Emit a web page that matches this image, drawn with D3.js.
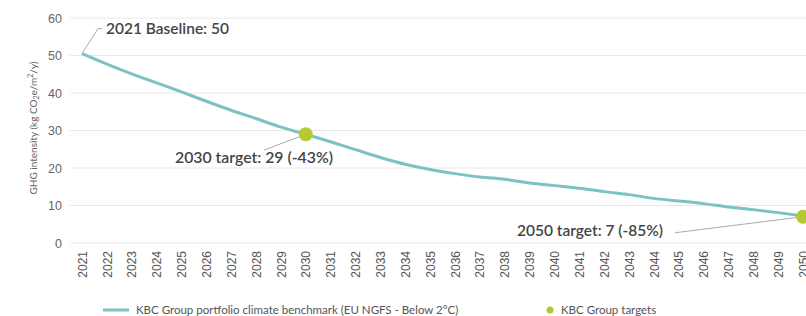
<!DOCTYPE html>
<html>
<head>
<meta charset="utf-8">
<script src="https://cdn.jsdelivr.net/npm/d3@7"></script>
<style>
  body { margin: 0; background: #fff; }
  svg { display: block; font-family: Lato, "Open Sans", sans-serif; }
</style>
</head>
<body>
<div id="chart"></div>
<script>
// Benchmark pathway
const years = d3.range(2021, 2051);
const benchmark = [50.5, 47.7, 45.1, 42.7, 40.3, 37.8, 35.4, 33.2, 30.9, 29.0,
  27.0, 24.9, 22.8, 21.0, 19.6, 18.5, 17.6, 17.0, 16.0, 15.3,
  14.6, 13.7, 12.9, 11.9, 11.2, 10.5, 9.6, 8.9, 8.1, 7.2];
const targetYears = [2030, 2050];
const targetValues = [29, 7];
const yTicks = [0, 10, 20, 30, 40, 50, 60];

const width = 806, height = 316;
const svg = d3.select('#chart').append('svg')
  .attr('width', width).attr('height', height);

const x = d3.scaleLinear().domain([2021, 2050]).range([82, 803]);
const y = d3.scaleLinear().domain([0, 60]).range([243, 18]);

// gridlines
svg.append('g').selectAll('line')
  .data(yTicks)
  .join('line')
  .attr('x1', 70).attr('x2', width)
  .attr('y1', d => y(d)).attr('y2', d => y(d))
  .attr('stroke', '#e8e8e8').attr('stroke-width', 1);

// y axis labels
const yAxis = svg.append('g')
  .attr('transform', 'translate(62,0)')
  .call(d3.axisLeft(y).tickValues(yTicks).tickSize(0).tickPadding(0));
yAxis.select('.domain').remove();
yAxis.selectAll('text').attr('fill', '#666').attr('font-size', 12.5);

svg.append('text')
  .attr('transform', 'translate(37,128) rotate(-90)')
  .attr('text-anchor', 'middle')
  .attr('font-size', 10)
  .attr('fill', '#666')
  .html('GHG intensity (kg CO<tspan font-size="7" dy="2">2</tspan><tspan dy="-2">e/m</tspan><tspan font-size="7" dy="-4">2</tspan><tspan dy="4">/y)</tspan>');

// x axis labels, rotated
const xAxis = svg.append('g')
  .attr('transform', 'translate(0,251)')
  .call(d3.axisBottom(x).tickValues(years).tickFormat(d3.format('d')).tickSize(0).tickPadding(0));
xAxis.select('.domain').remove();
xAxis.selectAll('text')
  .attr('fill', '#555').attr('font-size', 12)
  .attr('transform', 'rotate(-90)')
  .attr('text-anchor', 'end')
  .attr('dy', '0.35em').attr('x', 0).attr('y', 0);

// benchmark line
const line = d3.line().x((d, i) => x(years[i])).y(d => y(d)).curve(d3.curveMonotoneX);
svg.append('path')
  .datum(benchmark)
  .attr('d', line)
  .attr('fill', 'none')
  .attr('stroke', '#7cc2c4')
  .attr('stroke-width', 3);

// annotation leaders
const leader = svg.append('g').attr('stroke', '#aaa').attr('stroke-width', 1).attr('fill', 'none');
leader.append('path').attr('d', `M${x(2021)},${y(benchmark[0])}L${x(2021) + 16},${y(benchmark[0]) - 25}h4`);
leader.append('path').attr('d', `M${x(2030)},${y(29)}L${x(2030) - 42},${y(29) + 16}`);
leader.append('path').attr('d', `M${x(2050)},${y(7)}L${x(2050) - 128},${y(7) + 16}`);

// target markers
svg.append('g').selectAll('circle')
  .data(targetValues)
  .join('circle')
  .attr('cx', (d, i) => x(targetYears[i]))
  .attr('cy', d => y(d))
  .attr('r', 7)
  .attr('fill', '#b6c935');

const ann = svg.append('g').attr('font-size', 15.5).attr('font-weight', 600).attr('fill', '#444');
ann.append('text').attr('x', 106).attr('y', 34).text('2021 Baseline: 50');
ann.append('text').attr('x', 175).attr('y', 163).attr('font-size', 15.8).text('2030 target: 29 (-43%)');
ann.append('text').attr('x', 517).attr('y', 236).text('2050 target: 7 (-85%)');

// legend
const legend = svg.append('g').attr('font-size', 11.5).attr('fill', '#555');
legend.append('line').attr('x1', 103).attr('x2', 129).attr('y1', 310).attr('y2', 310)
  .attr('stroke', '#7cc2c4').attr('stroke-width', 3);
legend.append('text').attr('x', 136).attr('y', 314)
  .text('KBC Group portfolio climate benchmark (EU NGFS - Below 2°C)');
legend.append('circle').attr('cx', 550).attr('cy', 310).attr('r', 3.5).attr('fill', '#b6c935');
legend.append('text').attr('x', 561).attr('y', 314).text('KBC Group targets');
</script>
</body>
</html>
